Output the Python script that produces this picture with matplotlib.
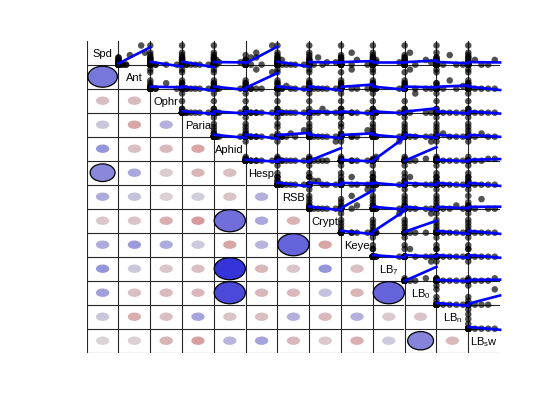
import numpy as np
import matplotlib.pyplot as plt
from matplotlib.patches import Ellipse
from matplotlib.colors import LinearSegmentedColormap

plt.rcParams["font.family"] = "Liberation Sans"

names = ["Spd", "Ant", "Ophr", "Paria", "Aphid", "Hesp", "RSB", "Crypt", "Keye",
         r"LB$_\mathregular{7}$", r"LB$_\mathregular{0}$", r"LB$_\mathregular{n}$", r"LB$_\mathregular{s}$w"]

# raw observations (one list per variable)
spd = [1, 8, 5, 0, 2, 0, 3, 0, 0, 1, 0, 4, 0, 0, 2, 0, 0, 1, 0, 0, 3, 0, 0, 0, 1, 0, 2, 0, 0, 0]
ant = [0, 6, 7, 0, 0, 1, 0, 0, 2, 0, 0, 3, 0, 0, 0, 0, 1, 0, 0, 0, 0, 0, 0, 2, 0, 0, 0, 0, 0, 0]
ophr = [0, 0, 0, 0, 0, 0, 0, 0, 3, 0, 0, 0, 0, 1, 0, 0, 0, 0, 5, 0, 0, 0, 0, 0, 0, 0, 0, 1, 0, 0]
paria = [0, 0, 0, 2, 0, 0, 0, 6, 0, 0, 1, 0, 0, 0, 0, 3, 0, 0, 0, 0, 0, 1, 0, 0, 0, 0, 0, 0, 4, 0]
aphid = [10, 0, 0, 0, 1, 0, 0, 0, 0, 2, 0, 0, 0, 0, 0, 0, 0, 0, 0, 1, 0, 0, 0, 0, 0, 0, 0, 0, 0, 0]
hesp = [0, 5, 2, 0, 0, 0, 1, 0, 0, 0, 0, 0, 3, 0, 0, 0, 0, 0, 0, 0, 2, 0, 0, 0, 0, 1, 0, 0, 0, 0]
rsb = [0, 0, 0, 6, 0, 2, 0, 0, 0, 0, 3, 0, 0, 0, 1, 0, 0, 0, 0, 0, 0, 0, 4, 0, 0, 0, 0, 0, 0, 1]
crypt = [6, 0, 0, 0, 0, 0, 2, 0, 0, 0, 0, 0, 0, 3, 0, 0, 0, 4, 0, 0, 0, 0, 0, 0, 0, 1, 0, 0, 0, 0]
keye = [0, 0, 2, 5, 0, 0, 0, 0, 0, 0, 0, 0, 0, 0, 3, 0, 0, 0, 0, 0, 0, 0, 2, 0, 0, 0, 0, 0, 0, 0]
lb7 = [8, 0, 0, 0, 1, 0, 0, 0, 0, 1, 0, 0, 0, 0, 0, 0, 0, 0, 0, 0, 0, 0, 0, 0, 0, 0, 0, 0, 0, 0]
lb0 = [5, 0, 1, 0, 4, 0, 0, 0, 0, 0, 0, 0, 0, 0, 0, 0, 0, 0, 2, 0, 0, 0, 0, 0, 0, 0, 0, 0, 0, 0]
lbn = [0, 0, 0, 0, 0, 0, 0, 0, 0, 0, 0, 2, 0, 0, 0, 0, 4, 0, 0, 0, 0, 1, 0, 0, 0, 0, 0, 0, 0, 3]
lbsw = [0, 0, 0, 0, 4, 0, 0, 0, 0, 0, 2, 0, 0, 0, 0, 0, 0, 0, 0, 3, 0, 0, 0, 0, 0, 0, 1, 0, 0, 0]

# correlations, lower triangle (row variable vs earlier variables)
r_ant = [0.55]
r_ophr = [-0.15, -0.18]
r_paria = [0.1, -0.3, 0.22]
r_aphid = [0.38, -0.15, -0.18, -0.3]
r_hesp = [0.45, 0.28, -0.08, -0.22, -0.15]
r_rsb = [0.25, 0.12, -0.05, 0.06, -0.12, 0.22]
r_crypt = [-0.1, -0.12, -0.25, -0.38, 0.6, 0.28, -0.22]
r_keye = [0.25, 0.35, 0.25, 0.08, -0.3, 0.2, 0.65, -0.3]
r_lb7 = [0.38, 0.1, -0.12, -0.15, 0.92, -0.2, -0.12, 0.38, -0.15]
r_lb0 = [0.32, -0.15, -0.18, -0.2, 0.8, -0.2, -0.18, 0.12, -0.22, 0.65]
r_lbn = [0.1, -0.25, -0.15, 0.3, -0.12, -0.15, 0.22, -0.18, 0.22, -0.1, -0.12]
r_lbsw = [-0.03, -0.05, -0.22, -0.35, 0.2, 0.3, -0.2, -0.1, -0.25, 0.08, 0.47, -0.18]

data = [spd, ant, ophr, paria, aphid, hesp, rsb, crypt, keye, lb7, lb0, lbn, lbsw]
corr_rows = [[], r_ant, r_ophr, r_paria, r_aphid, r_hesp, r_rsb, r_crypt, r_keye,
             r_lb7, r_lb0, r_lbn, r_lbsw]
n = len(names)

cmap = LinearSegmentedColormap.from_list(
    "rb", [(0.80, 0.20, 0.20), (0.86, 0.85, 0.86), (0.15, 0.15, 0.85)])

fig = plt.figure(figsize=(5.6, 4.2), dpi=100)
ax = fig.add_axes([0.1548, 0.1602, 0.7382, 0.7429])
ax.set_xlim(0, n)
ax.set_ylim(n, 0)
ax.axis("off")

# cell frames: left + bottom line of every cell
for i in range(n):
    for j in range(n):
        ax.plot([j, j], [i + 0.02, i + 1], color="0.15", lw=0.8, zorder=1)
        ax.plot([j, j + 0.96], [i + 1, i + 1], color="0.15", lw=0.8, zorder=1)

# diagonal labels
for i in range(n):
    ax.text(i + 0.5, i + 0.55, names[i], ha="center", va="center", fontsize=8, zorder=5)

# lower triangle ellipses
for i in range(1, n):
    for j, r in enumerate(corr_rows[i]):
        col = cmap((r + 1) / 2)
        if abs(r) >= 0.44:
            s = min(1.0, 0.8 + (abs(r) - 0.45) * 1.5)
            e = Ellipse((j + 0.5, i + 0.5), s * 0.98, s * 0.92, facecolor=col,
                        edgecolor="black", lw=0.9, zorder=3)
        else:
            e = Ellipse((j + 0.5, i + 0.5), 0.42, 0.35, facecolor=col,
                        edgecolor="none", zorder=3)
        ax.add_patch(e)

# upper triangle scatter with least squares line
for i in range(n):
    yv = np.array(data[i], dtype=float)
    ys = yv.max() * 1.25
    for j in range(i + 1, n):
        xv = np.array(data[j], dtype=float)
        xs = xv.max() * 1.2
        ax.scatter(j + xv / xs, i + 1 - yv / ys, s=22, color="black", alpha=0.68,
                   edgecolors="none", zorder=4, clip_on=False)
        b, a = np.polyfit(xv, yv, 1)
        xl = np.array([0, xs])
        ax.plot(j + xl / xs, i + 1 - (a + b * xl) / ys, color="blue", lw=1.9,
                zorder=6, clip_on=False)

fig.savefig("out.png", dpi=100)
